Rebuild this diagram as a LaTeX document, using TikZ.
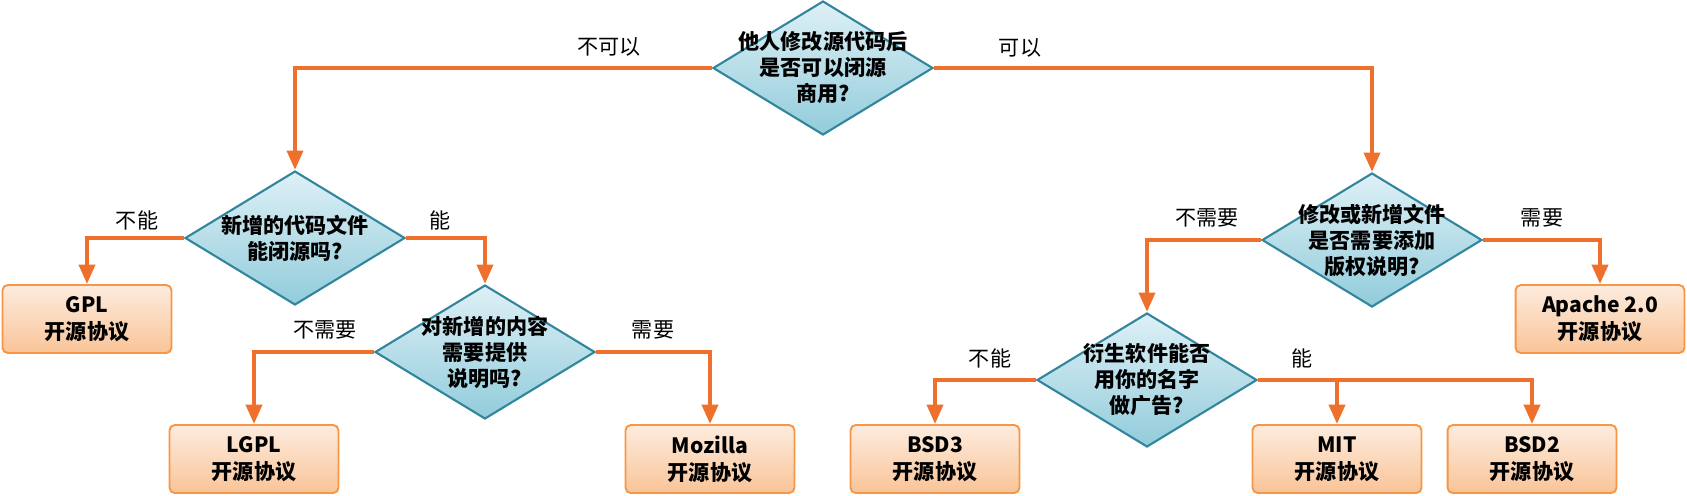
\documentclass[tikz,border=0pt]{standalone}
\usepackage{fontspec}
\newfontfamily\cjk{Noto Sans CJK SC}
\usetikzlibrary{shapes.geometric, arrows.meta, positioning}
\definecolor{lineorange}{RGB}{238,112,44}
\definecolor{boxedge}{RGB}{247,150,70}
\definecolor{boxtop}{RGB}{253,236,222}
\definecolor{boxbottom}{RGB}{249,196,152}
\definecolor{diaedge}{RGB}{49,133,156}
\definecolor{diatop}{RGB}{222,240,246}
\definecolor{diabottom}{RGB}{146,204,219}

\begin{document}
\begin{tikzpicture}[x=0.02cm, y=-0.02cm,
    decision/.style={diamond, 
      draw=diaedge, 
      line width=1.2pt, 
      top color=diatop, 
      bottom color=diabottom, 
      minimum width=4.4cm, 
      minimum height=2.68cm, 
      inner sep=0pt},
    qtext/.style={align=center, 
      font=\cjk\bfseries\fontsize{12}{14.8}\selectfont},
    license/.style={rectangle, 
      rounded corners=3pt, 
      draw=boxedge, 
      line width=1.1pt, 
      top color=boxtop, 
      bottom color=boxbottom, 
      minimum width=3.38cm, 
      minimum height=1.36cm, 
      align=center, 
      font=\cjk\bfseries\fontsize{12}{15.4}\selectfont},
    answer/.style={font=\cjk\fontsize{12}{14}\selectfont},
    flow/.style={draw=lineorange, 
      line width=2.3pt, 
      -{Triangle[length=11pt,width=9pt]}}]

  \useasboundingbox (0,0) rectangle (1687,495);

% QUESTIONS

  \node [decision] (q1) at (823,68) {};
  \node [qtext] (q1text) at (q1) {他人修改源代码后\\是否可以闭源\\商用?};

  \node [decision] (q2) at (295,238) {};
  \node [qtext] (q2text) at (q2) {新增的代码文件\\能闭源吗?};

  \node [decision] (q3) at (485,352) {};
  \node [qtext] (q3text) at (q3) {对新增的内容\\需要提供\\说明吗?};

  \node [decision] (q4) at (1372,240) {};
  \node [qtext] (q4text) at (q4) {修改或新增文件\\是否需要添加\\版权说明?};

  \node [decision] (q5) at (1147,380) {};
  \node [qtext] (q5text) at (q5) {衍生软件能否\\用你的名字\\做广告?};

% LICENSES

  \node [license] (gpl) at (87,319) {GPL\\开源协议};
  \node [license] (lgpl) at (254,459) {LGPL\\开源协议};
  \node [license] (mpl) at (710,459) {Mozilla\\开源协议};
  \node [license] (apache) at (1600,319) {Apache 2.0\\开源协议};
  \node [license] (bsd3) at (935,459) {BSD3\\开源协议};
  \node [license] (mit) at (1337,459) {MIT\\开源协议};
  \node [license] (bsd2) at (1532,459) {BSD2\\开源协议};

% ANSWERS

  \node [answer] (q1no) at (609,47) {不可以};
  \node [answer] (q1yes) at (1020,48) {可以};
  \node [answer] (q2no) at (137,220) {不能};
  \node [answer] (q2yes) at (440,220) {能};
  \node [answer] (q3no) at (325,330) {不需要};
  \node [answer] (q3yes) at (653,330) {需要};
  \node [answer] (q4no) at (1207,218) {不需要};
  \node [answer] (q4yes) at (1542,218) {需要};
  \node [answer] (q5no) at (990,358) {不能};
  \node [answer] (q5yes) at (1302,358) {能};

% CONNECTORS

  \draw[flow] (q1.west) -| (q2.north);
  \draw[flow] (q1.east) -| (q4.north);
  \draw[flow] (q2.west) -| (gpl.north);
  \draw[flow] (q2.east) -| (q3.north);
  \draw[flow] (q3.west) -| (lgpl.north);
  \draw[flow] (q3.east) -| (mpl.north);
  \draw[flow] (q4.west) -| (q5.north);
  \draw[flow] (q4.east) -| (apache.north);
  \draw[flow] (q5.west) -| (bsd3.north);
  \draw[flow] (q5.east) -| (bsd2.north);
  \draw[flow] (q5.east -| mit.north) -- (mit.north);

\end{tikzpicture}
\end{document}
